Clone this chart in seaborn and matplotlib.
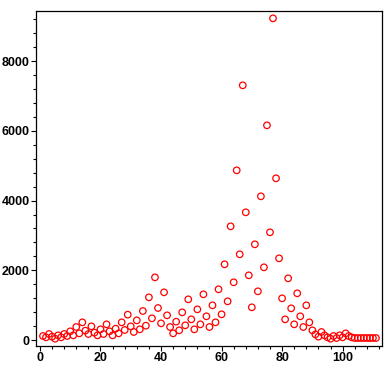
import matplotlib
matplotlib.use('Agg')
import matplotlib.pyplot as plt
from matplotlib.ticker import MultipleLocator
import seaborn as sns
import pandas as pd

day = [1, 2, 3, 4, 5, 6, 7, 8, 9, 10, 11, 12, 13, 14, 15, 16, 17, 18, 19, 20,
       21, 22, 23, 24, 25, 26, 27, 28, 29, 30, 31, 32, 33, 34, 35, 36, 37, 38, 39, 40,
       41, 42, 43, 44, 45, 46, 47, 48, 49, 50, 51, 52, 53, 54, 55, 56, 57, 58, 59, 60,
       61, 62, 63, 64, 65, 66, 67, 68, 69, 70, 71, 72, 73, 74, 75, 76, 77, 78, 79, 80,
       81, 82, 83, 84, 85, 86, 87, 88, 89, 90, 91, 92, 93, 94, 95, 96, 97, 98, 99, 100,
       101, 102, 103, 104, 105, 106, 107, 108, 109, 110, 111]
count = [115, 77, 172, 96, 37, 134, 77, 172, 115, 249, 134, 373, 191, 507, 268, 172, 392, 210, 134, 306,
         172, 450, 249, 134, 325, 191, 507, 287, 727, 392, 230, 564, 306, 832, 411, 1224, 622, 1798, 918, 478,
         1368, 708, 373, 191, 526, 278, 794, 421, 1167, 593, 306, 880, 450, 1311, 680, 373, 995, 507, 1455, 737,
         2172, 1110, 3262, 1656, 4869, 2459, 7308, 3664, 1856, 938, 2746, 1397, 4123, 2086, 6160, 3090, 9230, 4640, 2344, 1196,
         593, 1770, 909, 450, 1340, 680, 373, 995, 507, 278, 163, 96, 230, 134, 77, 37, 115, 57, 134, 77,
         191, 115, 77, 57, 57, 57, 57, 57, 57, 57, 57]

df = pd.DataFrame({'day': day, 'count': count})

sns.set_style('ticks')
plt.rcParams['font.family'] = ['Liberation Sans', 'DejaVu Sans']

fig = plt.figure(figsize=(3.86, 3.72), dpi=100)
ax = fig.add_axes([0.0933, 0.0699, 0.8963, 0.9005])
sns.scatterplot(x='day', y='count', data=df, ax=ax, marker='o', s=22,
                facecolor='none', edgecolor='red', linewidth=0.9)

ax.set_xlim(-1.3, 113)
ax.set_ylim(-172, 9440)
ax.xaxis.set_major_locator(MultipleLocator(20))
ax.xaxis.set_minor_locator(MultipleLocator(4))
ax.yaxis.set_major_locator(MultipleLocator(2000))
ax.yaxis.set_minor_locator(MultipleLocator(400))
ax.tick_params(which='major', length=3.5, width=0.8, direction='out', labelsize=9,
               pad=1, color='black', labelcolor='black')
ax.tick_params(which='minor', length=2.2, width=0.8, direction='out', color='black')
for lab in ax.get_xticklabels() + ax.get_yticklabels():
    lab.set_fontweight('bold')
for sp in ax.spines.values():
    sp.set_visible(True)
    sp.set_linewidth(0.9)
    sp.set_color('black')
ax.set_xlabel('')
ax.set_ylabel('')

plt.savefig('out.png', dpi=100)
